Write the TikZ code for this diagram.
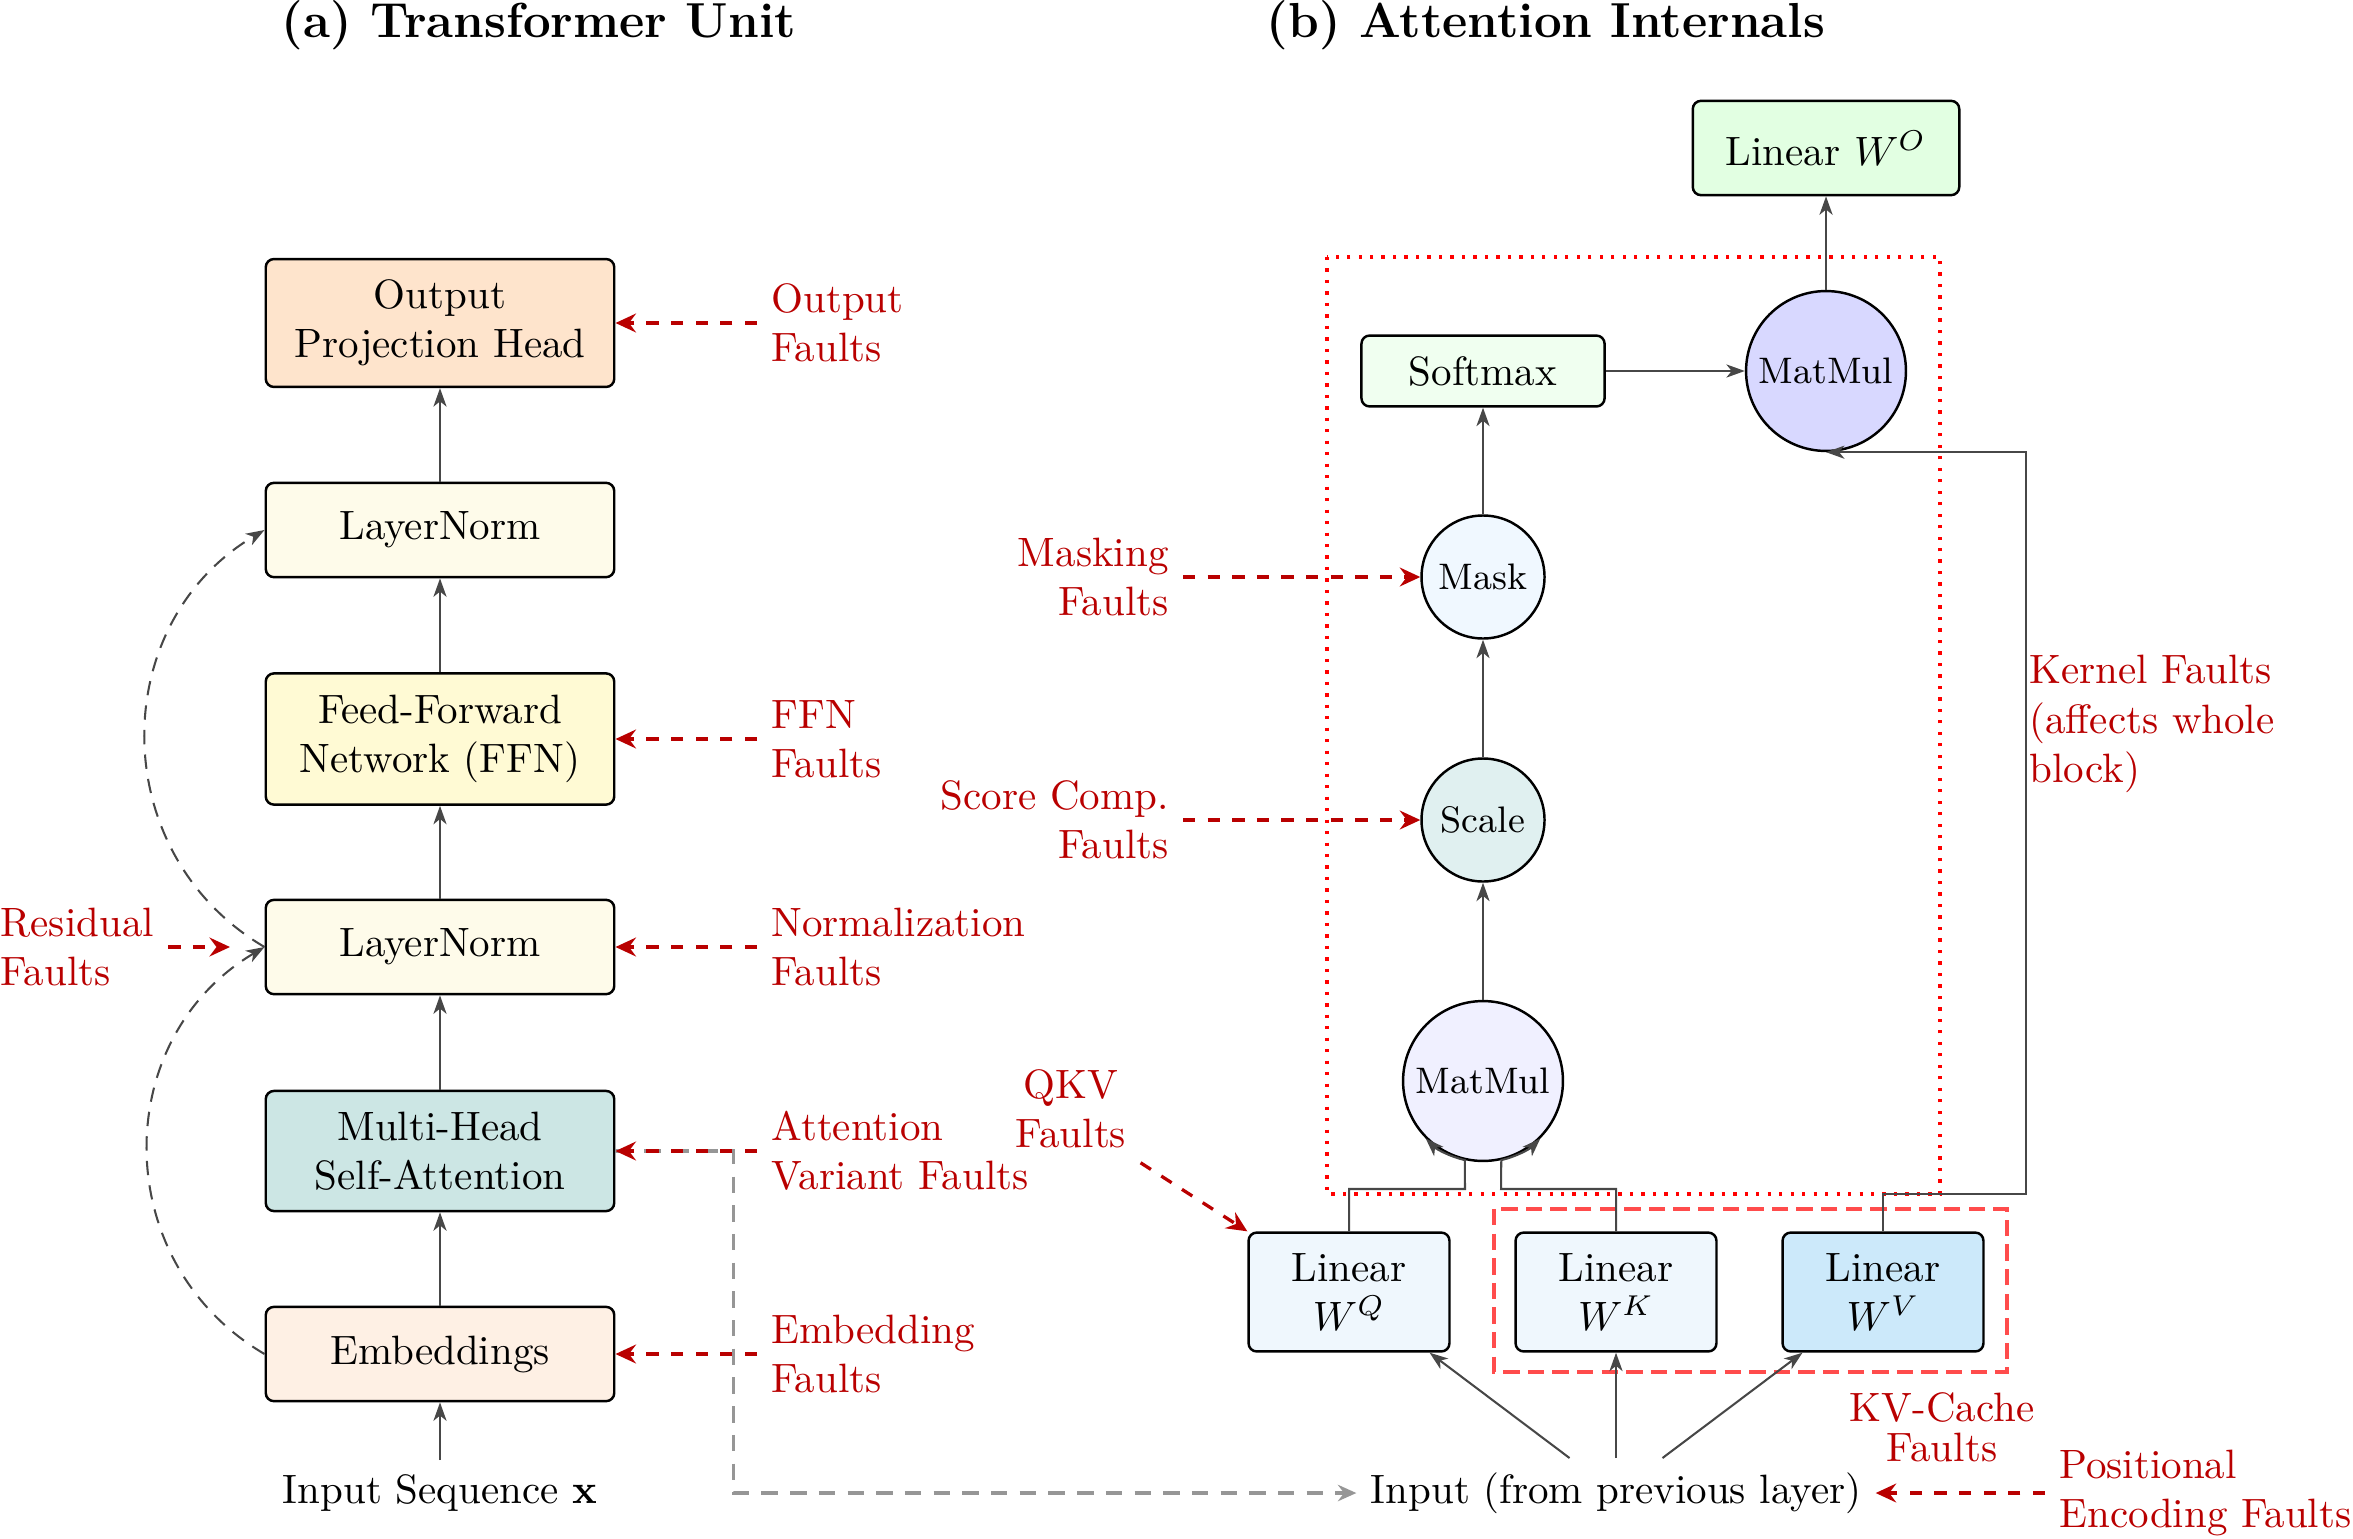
\documentclass[tikz,border=0pt]{standalone}
\usetikzlibrary{arrows.meta}
\definecolor{cOut}{RGB}{254,228,204}
\definecolor{cLN}{RGB}{254,251,234}
\definecolor{cFFN}{RGB}{255,250,212}
\definecolor{cMHSA}{RGB}{204,230,228}
\definecolor{cEmb}{RGB}{254,240,228}
\definecolor{cWO}{RGB}{226,255,226}
\definecolor{cSoft}{RGB}{240,255,240}
\definecolor{cMMa}{RGB}{216,216,255}
\definecolor{cMask}{RGB}{240,248,255}
\definecolor{cScale}{RGB}{224,240,240}
\definecolor{cMMb}{RGB}{240,240,255}
\definecolor{cQK}{RGB}{239,247,253}
\definecolor{cV}{RGB}{204,233,250}
\definecolor{fred}{RGB}{185,0,0}
\definecolor{lgray}{RGB}{150,150,150}
\begin{document}
\begin{tikzpicture}[x=0.2439pt, y=-0.2439pt,
  box/.style={draw=black, line width=0.6pt, rounded corners=2pt, align=center, inner sep=2pt},
  lbox/.style={box, minimum width=85pt},
  circ/.style={circle, draw=black, line width=0.6pt, inner sep=1pt, font=\small},
  conn/.style={draw=black!72, line width=0.5pt, -{Stealth[length=4.5pt,width=3.2pt,inset=1.3pt]}},
  flt/.style={text=fred, inner sep=3.33pt},
  farr/.style={draw=fred, thick, dashed, -{Stealth[length=5pt,width=4.6pt,inset=1.7pt]}},
  resarr/.style={draw=black!72, line width=0.5pt, dash pattern=on 3.5pt off 2.5pt, -{Stealth[length=4.5pt,width=3.2pt,inset=1.3pt]}},
  ttl/.style={font=\fontsize{12}{14}\selectfont\bfseries, anchor=base},
]
\useasboundingbox (0,0) rectangle (2353,1538);

% titles
\node[ttl] (ta) at (539,38) {(a) Transformer Unit};
\node[ttl] (tb) at (1546,38) {(b) Attention Internals};

% fault regions (b)
\draw[red, thick, dotted] (1327,257) rectangle (1940,1194);
\draw[red!70, thick, dash pattern=on 4pt off 2pt] (1494,1209) rectangle (2007,1372);

% (a) nodes
\node[lbox, fill=cOut, minimum height=31.2pt] (out) at (440,323) {Output\\Projection Head};
\node[lbox, fill=cLN, minimum height=23pt] (ln1) at (440,530) {LayerNorm};
\node[lbox, fill=cFFN, minimum height=32pt] (ffn) at (440,739) {Feed-Forward\\Network (FFN)};
\node[lbox, fill=cLN, minimum height=23pt] (ln2) at (440,947) {LayerNorm};
\node[lbox, fill=cMHSA, minimum height=29.3pt] (mhsa) at (440,1151) {Multi-Head\\Self-Attention};
\node[lbox, fill=cEmb, minimum height=23pt] (emb) at (440,1354) {Embeddings};
\node (inseq) at (440,1493) {Input Sequence $\mathbf{x}$};

% (a) fault labels
\node[flt, anchor=west, align=left] (fout) at (757,323) {Output\\Faults};
\node[flt, anchor=west, align=left] (fffn) at (757,739) {FFN\\Faults};
\node[flt, anchor=west, align=left] (fnorm) at (757,947) {Normalization\\Faults};
\node[flt, anchor=west, align=left] (fatt) at (757,1151) {Attention\\Variant Faults};
\node[flt, anchor=west, align=left] (femb) at (757,1354) {Embedding\\Faults};
\node[flt, anchor=west, align=left] (fres) at (-14,947) {Residual\\Faults};
\coordinate (resend) at (230,947);

% (b) nodes
\node[box, fill=cWO, minimum width=65pt, minimum height=23pt] (wo) at (1826,148) {Linear $W^O$};
\node[box, fill=cSoft, minimum width=59.3pt, minimum height=17.3pt] (soft) at (1483,371) {Softmax};
\node[circ, fill=cMMa, minimum size=39pt] (mma) at (1826,371) {MatMul};
\node[circ, fill=cMask, minimum size=30pt] (mask) at (1483,577) {Mask};
\node[circ, fill=cScale, minimum size=30pt] (scale) at (1483,820) {Scale};
\node[circ, fill=cMMb, minimum size=39pt] (mmb) at (1483,1081) {MatMul};
\node[box, fill=cQK, minimum width=49pt, minimum height=29pt] (lq) at (1349,1292) {Linear\\$W^Q$};
\node[box, fill=cQK, minimum width=49pt, minimum height=29pt] (lk) at (1616,1292) {Linear\\$W^K$};
\node[box, fill=cV, minimum width=49pt, minimum height=29pt] (lv) at (1883,1292) {Linear\\$W^V$};
\node (inp) at (1616,1493) {Input (from previous layer)};

% (b) fault labels
\node[flt, anchor=east, align=right] (fmask) at (1183,577) {Masking\\Faults};
\node[flt, anchor=east, align=right] (fscore) at (1183,820) {Score Comp.\\Faults};
\node[flt, align=center] (fqkv) at (1071,1109) {QKV\\Faults};
\node[flt, anchor=west, align=left] (fkern) at (2015,724) {Kernel Faults\\(affects whole\\block)};
\node[flt, align=center] (fkv) at (1942,1427) {KV-Cache\\[-2.2pt]Faults};
\node[flt, anchor=west, align=left] (fpos) at (2045,1493) {Positional\\Encoding Faults};

% coordinates for wiring
\coordinate (qj) at (1465,1189);
\coordinate (kj) at (1501,1189);
\coordinate (vj) at (2026,1194);

% (a) connectors
\draw[conn] (inseq.north) -- (emb.south);
\draw[conn] (emb.north) -- (mhsa.south);
\draw[conn] (mhsa.north) -- (ln2.south);
\draw[conn] (ln2.north) -- (ffn.south);
\draw[conn] (ffn.north) -- (ln1.south);
\draw[conn] (ln1.north) -- (out.south);
\draw[resarr] (emb.west) .. controls (109,1263) and (109,1039) .. (ln2.west);
\draw[resarr] (ln2.west) .. controls (106,854) and (106,624) .. (ln1.west);

% gray link to (b) input
\draw[lgray, thick, dash pattern=on 4pt off 3pt, -{Stealth[length=4.5pt,width=4pt,inset=1.5pt]}] (mhsa.east) -- ++(118,0) |- (inp.west);

% (a) fault arrows
\draw[farr] (fout.west) -- (out.east);
\draw[farr] (fffn.west) -- (ffn.east);
\draw[farr] (fnorm.west) -- (ln2.east);
\draw[farr] (fatt.west) -- (mhsa.east);
\draw[farr] (femb.west) -- (emb.east);
\draw[farr] (fres.east) -- (resend);

% (b) connectors
\draw[conn] (inp) -- (lq);
\draw[conn] (inp) -- (lk);
\draw[conn] (inp) -- (lv);
\draw[conn] (lq.north) |- (qj) -- (mmb.257) arc[start angle=103, end angle=135, radius=81];
\draw[conn] (lk.north) |- (kj) -- (mmb.283) arc[start angle=77, end angle=45, radius=81];
\draw[conn] (mmb.north) -- (scale.south);
\draw[conn] (scale.north) -- (mask.south);
\draw[conn] (mask.north) -- (soft.south);
\draw[conn] (soft.east) -- (mma.west);
\draw[conn] (mma.north) -- (wo.south);
\draw[conn] (lv.north) |- (vj) |- (mma.south);

% (b) fault arrows
\draw[farr] (fmask.east) -- (mask.west);
\draw[farr] (fscore.east) -- (scale.west);
\draw[farr] (fqkv.south east) -- (lq.north west);
\draw[farr] (fpos.west) -- (inp.east);
\end{tikzpicture}
\end{document}
